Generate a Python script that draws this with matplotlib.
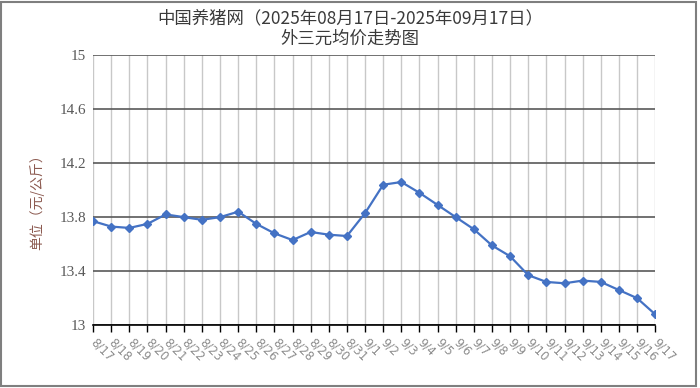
import matplotlib
matplotlib.use("Agg")
import matplotlib.pyplot as plt
from matplotlib.patches import Rectangle

plt.rcParams['font.family'] = ['Noto Sans CJK SC', 'DejaVu Sans']

dates = ["8/17", "8/18", "8/19", "8/20", "8/21", "8/22", "8/23", "8/24", "8/25", "8/26",
         "8/27", "8/28", "8/29", "8/30", "8/31", "9/1", "9/2", "9/3", "9/4", "9/5",
         "9/6", "9/7", "9/8", "9/9", "9/10", "9/11", "9/12", "9/13", "9/14", "9/15",
         "9/16", "9/17"]
prices = [13.77, 13.73, 13.72, 13.75, 13.82, 13.80, 13.78, 13.80, 13.84, 13.75,
          13.68, 13.63, 13.69, 13.67, 13.66, 13.83, 14.04, 14.06, 13.98, 13.89,
          13.80, 13.71, 13.59, 13.51, 13.37, 13.32, 13.31, 13.33, 13.32, 13.26,
          13.20, 13.08]
yticks = [13, 13.4, 13.8, 14.2, 14.6, 15]
ytick_labels = ["13", "13.4", "13.8", "14.2", "14.6", "15"]

title_line1 = "中国养猪网（2025年08月17日-2025年09月17日）"
title_line2 = "外三元均价走势图"
ylabel = "单位（元/公斤）"

fig = plt.figure(figsize=(7.0, 3.88), dpi=100)
ax = fig.add_axes([0.133, 0.162, 0.803, 0.696])

x = list(range(len(dates)))
ax.plot(x, prices, color='#4472c4', linewidth=1.6, marker='D', markersize=4.5,
        markerfacecolor='#4472c4', markeredgecolor='#4472c4', zorder=3)

ax.set_xlim(0, len(dates) - 1)
ax.set_ylim(13, 15)
ax.set_yticks(yticks)
ax.set_yticklabels(ytick_labels)
ax.set_xticks(x)
ax.set_xticklabels(dates, rotation=-45, ha='left', va='center', rotation_mode='anchor')

ax.grid(axis='x', color='#c8c8c8', linewidth=1.0, zorder=0)
ax.grid(axis='y', color='#595959', linewidth=1.2, zorder=0)
ax.tick_params(axis='y', length=0, pad=5, labelsize=11, labelcolor='#595959',
               labelfontfamily='Liberation Serif')
ax.tick_params(axis='x', length=5, width=1.0, color='#000000', direction='out', pad=6,
               labelsize=8.5, labelcolor='#8c8c8c', labelfontfamily='DejaVu Sans')
for s in ['left', 'right', 'top']:
    ax.spines[s].set_visible(False)
ax.spines['bottom'].set_color('#000000')
ax.spines['bottom'].set_linewidth(1.2)

ax.set_ylabel(ylabel, fontsize=10, color='#8c5a50')
ax.yaxis.set_label_coords(-0.087, 0.47)

fig.text(0.5, 1 - 18 / 388, title_line1, ha='center', va='center', fontsize=12.5, color='#3a3a3a')
fig.text(0.5, 1 - 39 / 388, title_line2, ha='center', va='center', fontsize=12.5, color='#3a3a3a')

fig.patches.append(Rectangle((0.002, 0.006), 0.992, 0.99, transform=fig.transFigure,
                             fill=False, edgecolor='#7f7f7f', linewidth=1.5))

fig.savefig('out.png', dpi=100)
